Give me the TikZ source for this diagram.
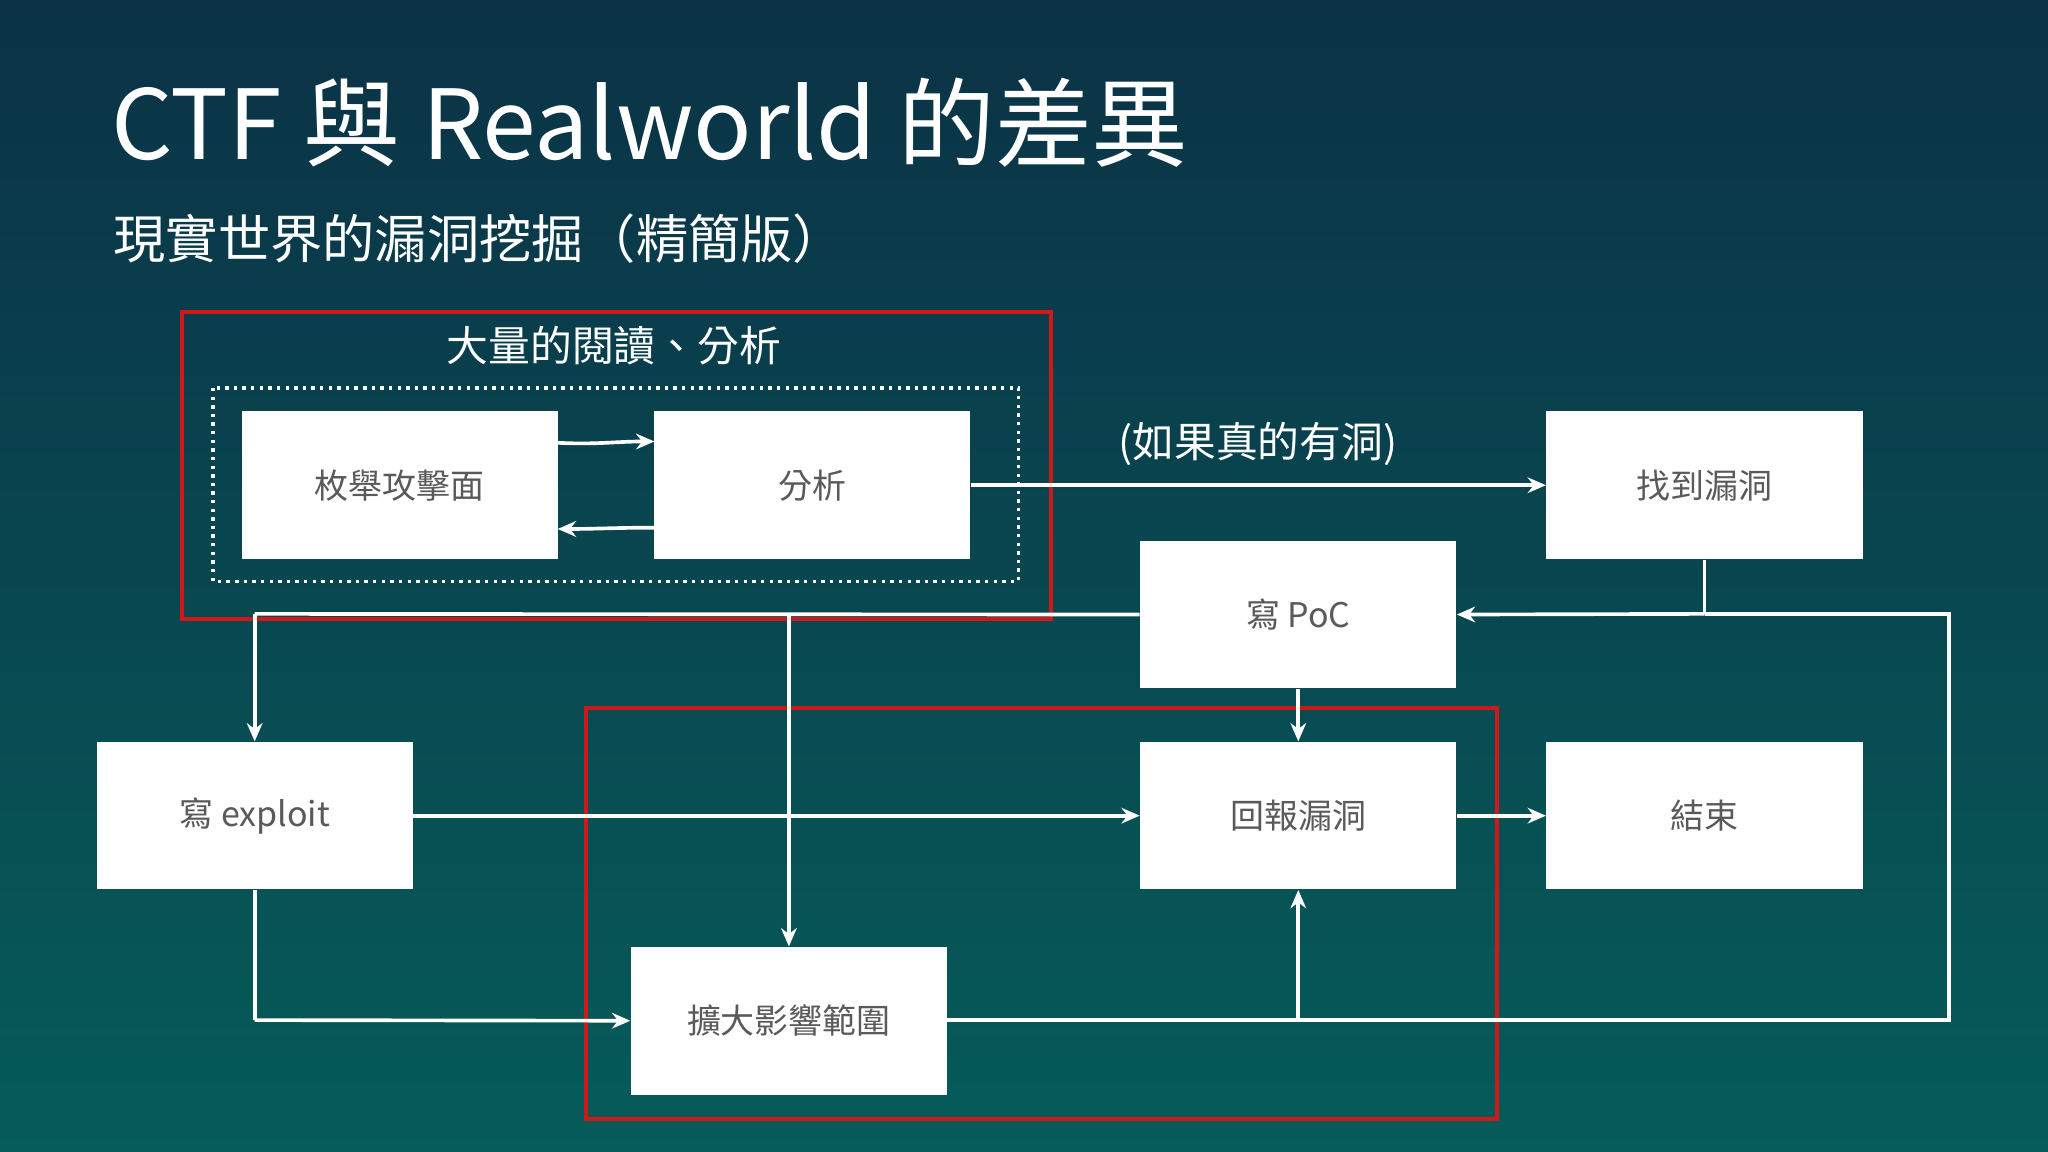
\documentclass[tikz,border=0pt]{standalone}
\usepackage{fontspec}
\setmainfont{Noto Sans CJK TC}
\usetikzlibrary{arrows.meta}
\definecolor{boxtxt}{HTML}{5A5A5A}
\definecolor{redc}{HTML}{D01818}
\definecolor{bgtop}{HTML}{0B3246}
\definecolor{bgbot}{HTML}{065C5A}
\begin{document}
\begin{tikzpicture}[x=0.5pt,y=-0.5pt,
  box/.style={fill=white,draw=none,minimum width=121pt,minimum height=56.5pt,text=boxtxt,font=\fontsize{13}{15}\selectfont,inner sep=0pt},
  ln/.style={draw=white,line width=1.4pt},
  arr/.style={ln,-{Stealth[length=7pt,width=6pt]}},
  redbox/.style={draw=redc,line width=1.5pt}]
\shade[top color=bgtop,bottom color=bgbot] (0,0) rectangle (1568,882);
\useasboundingbox (0,0) rectangle (1568,882);
\node[anchor=base west,text=white,font=\fontsize{37}{40}\selectfont] (title) at (78,122) {CTF 與 Realworld 的差異};
\node[anchor=base west,text=white,font=\fontsize{20}{24}\selectfont] (sub) at (80,198) {現實世界的漏洞挖掘（精簡版）};
\draw[redbox] (139,239) rectangle (805,474);
\node[text=white,font=\fontsize{16}{18}\selectfont] (lab1) at (470,265) {大量的閱讀、分析};
\draw[white,line width=1.3pt,dotted] (163,297) rectangle (780,445);
\draw[redbox] (449,542) rectangle (1146,857);
\node[box] (enum) at (306,371.5) {枚舉攻擊面};
\node[box] (ana) at (622,371.5) {分析};
\node[box] (find) at (1305,371.5) {找到漏洞};
\node[box] (poc) at (994,470.5) {寫 PoC};
\node[box] (exp) at (195,624.5) {寫 exploit};
\node[box] (rep) at (994,624.5) {回報漏洞};
\node[box] (end) at (1305,624.5) {結束};
\node[box] (ext) at (604,781.5) {擴大影響範圍};
\node[text=white,font=\fontsize{16}{18}\selectfont] (lab2) at (963,340) {(如果真的有洞)};
\coordinate (c1) at (1305,470);
\coordinate (c2) at (1492,470);
\coordinate (c3) at (1492,781);
\coordinate (c4) at (994,781);
\coordinate (c5) at (195,470);
\coordinate (c6) at (604,470);
\coordinate (c7) at (195,781);
\draw[arr] (427,339) to[out=-3,in=180] (501,338);
\draw[arr] (501,404) to[out=180,in=0] (427,405);
\draw[arr] (ana.east) -- (find.west);
\draw[ln] (find.south) -- (c1);
\draw[arr] (c1) -- (poc.east);
\draw[ln] (c1) -- (c2) -- (c3) -- (ext.east |- c3);
\draw[arr] (c4) -- (rep.south);
\draw[ln] (poc.west) -- (c5);
\draw[arr] (c5) -- (exp.north);
\draw[arr] (c6) -- (ext.north);
\draw[arr] (poc.south) -- (rep.north);
\draw[arr] (exp.east) -- (rep.west);
\draw[arr] (rep.east) -- (end.west);
\draw[ln] (exp.south) -- (c7);
\draw[arr] (c7) -- (ext.west);
\end{tikzpicture}
\end{document}
